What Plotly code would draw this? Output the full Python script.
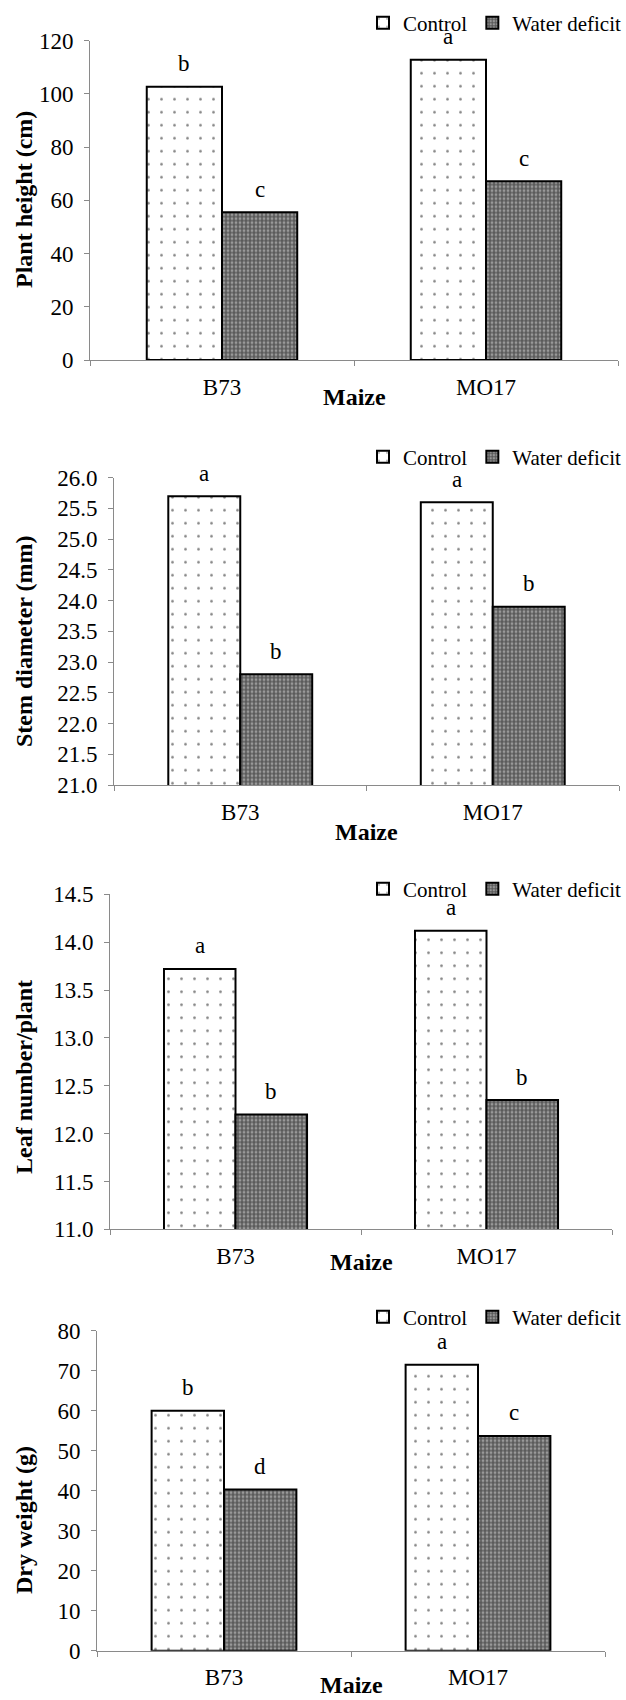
import plotly.graph_objects as go

# ---------------- data ----------------
groups = ["B73", "MO17"]
series_names = ["Control", "Water deficit"]

height_control = [102.7, 112.8]
height_deficit = [55.5, 67.2]
height_letters_control = ["b", "a"]
height_letters_deficit = ["c", "c"]

stem_control = [25.7, 25.6]
stem_deficit = [22.8, 23.9]
stem_letters_control = ["a", "a"]
stem_letters_deficit = ["b", "b"]

leaf_control = [13.72, 14.12]
leaf_deficit = [12.2, 12.35]
leaf_letters_control = ["a", "a"]
leaf_letters_deficit = ["b", "b"]

dry_control = [60.0, 71.5]
dry_deficit = [40.3, 53.7]
dry_letters_control = ["b", "a"]
dry_letters_deficit = ["d", "c"]

y_titles = ["Plant height (cm)", "Stem diameter (mm)", "Leaf number/plant", "Dry weight (g)"]
x_title = "Maize"

# ---------------- layout (pixels) ----------------
W, H = 626, 1700
FONT = "Liberation Serif, Times New Roman, serif"
AXIS_GREY = "#8a8a8a"
BARGAP = 0.43

panels = [
    dict(ctrl=height_control, defi=height_deficit, lc=height_letters_control, ld=height_letters_deficit,
         x0=90, x1=618, ytop=40.7, ybot=360, rng=[0, 120], dtick=20, fmt="d",
         ytitle_y=200, maize_y=397, legend_y=23),
    dict(ctrl=stem_control, defi=stem_deficit, lc=stem_letters_control, ld=stem_letters_deficit,
         x0=114, x1=619, ytop=477.7, ybot=785, rng=[21, 26], dtick=0.5, fmt=".1f",
         ytitle_y=642, maize_y=832, legend_y=457),
    dict(ctrl=leaf_control, defi=leaf_deficit, lc=leaf_letters_control, ld=leaf_letters_deficit,
         x0=110, x1=612, ytop=894.3, ybot=1229.3, rng=[11, 14.5], dtick=0.5, fmt=".1f",
         ytitle_y=1077, maize_y=1262, legend_y=889),
    dict(ctrl=dry_control, defi=dry_deficit, lc=dry_letters_control, ld=dry_letters_deficit,
         x0=97, x1=605, ytop=1330.7, ybot=1650.7, rng=[0, 80], dtick=10, fmt="d",
         ytitle_y=1520, maize_y=1685, legend_y=1317),
]

fig = go.Figure()
annotations = []
layout = dict(
    width=W, height=H,
    margin=dict(l=0, r=0, t=0, b=0, autoexpand=False),
    paper_bgcolor="white", plot_bgcolor="white",
    barmode="group", bargap=BARGAP, bargroupgap=0,
    font=dict(family=FONT, size=23, color="black"),
)

ctrl_marker = dict(color="white", line=dict(color="black", width=2),
                   pattern=dict(shape=".", fgcolor="#000000", bgcolor="white",
                                size=13, solidity=0.035, fillmode="overlay"))
defi_marker = dict(color="#5a5a5a", line=dict(color="black", width=2),
                   pattern=dict(shape=".", fgcolor="#d8d8d8", bgcolor="#5a5a5a",
                                size=4, solidity=0.4, fillmode="overlay"))

bar_w = (1 - BARGAP) / 2.0
offsets = [-bar_w / 2, bar_w / 2]

for i, p in enumerate(panels):
    n = "" if i == 0 else str(i + 1)
    xa, ya = "x" + n, "y" + n
    lg = "legend" + n
    for k, (vals, mk) in enumerate([(p["ctrl"], ctrl_marker), (p["defi"], defi_marker)]):
        fig.add_trace(go.Bar(
            x=groups, y=vals, name=series_names[k], marker=mk,
            xaxis=xa, yaxis=ya, legend=lg, showlegend=True,
            hoverinfo="skip",
        ))
    layout["xaxis" + n] = dict(
        domain=[p["x0"] / W, p["x1"] / W], anchor=ya, automargin=False,
        type="category", categoryorder="array", categoryarray=groups,
        range=[-0.5, 1.5], tickson="boundaries", ticks="outside", ticklen=5,
        tickcolor=AXIS_GREY, showline=True, linecolor=AXIS_GREY, linewidth=1,
        showgrid=False, zeroline=False, tickfont=dict(size=23, family=FONT),
        ticklabelstandoff=6,
    )
    layout["yaxis" + n] = dict(
        domain=[1 - p["ybot"] / H, 1 - p["ytop"] / H], anchor=xa, automargin=False,
        range=p["rng"], dtick=p["dtick"], tick0=p["rng"][0], tickformat=p["fmt"],
        ticks="outside", ticklen=5, tickcolor=AXIS_GREY, showline=True,
        linecolor=AXIS_GREY, linewidth=1, showgrid=False, zeroline=False,
        tickfont=dict(size=23, family=FONT), ticklabelstandoff=6,
    )
    layout[lg] = dict(
        orientation="h", x=1.0, xanchor="right", y=1 - p["legend_y"] / H, yanchor="middle",
        font=dict(size=21, family=FONT), bgcolor="rgba(0,0,0,0)", borderwidth=0,
        itemclick=False, itemdoubleclick=False, tracegroupgap=0, itemwidth=30,
    )
    # significance letters above bars
    for k, (vals, letters) in enumerate([(p["ctrl"], p["lc"]), (p["defi"], p["ld"])]):
        for j, (v, t) in enumerate(zip(vals, letters)):
            annotations.append(dict(
                x=j + offsets[k], y=v, xref=xa, yref=ya, text=t, showarrow=False,
                yanchor="middle", yshift=23, font=dict(size=23, family=FONT),
            ))
    # y-axis title
    annotations.append(dict(
        x=24 / W, y=1 - p["ytitle_y"] / H, xref="paper", yref="paper",
        text="<b>" + y_titles[i] + "</b>", textangle=-90, showarrow=False,
        xanchor="center", yanchor="middle", font=dict(size=24, family=FONT),
    ))
    # x-axis title
    annotations.append(dict(
        x=(p["x0"] + p["x1"]) / 2 / W, y=1 - p["maize_y"] / H, xref="paper", yref="paper",
        text="<b>" + x_title + "</b>", showarrow=False,
        xanchor="center", yanchor="middle", font=dict(size=24, family=FONT),
    ))

layout["annotations"] = annotations
fig.update_layout(**layout)
fig.write_html("out.html")
